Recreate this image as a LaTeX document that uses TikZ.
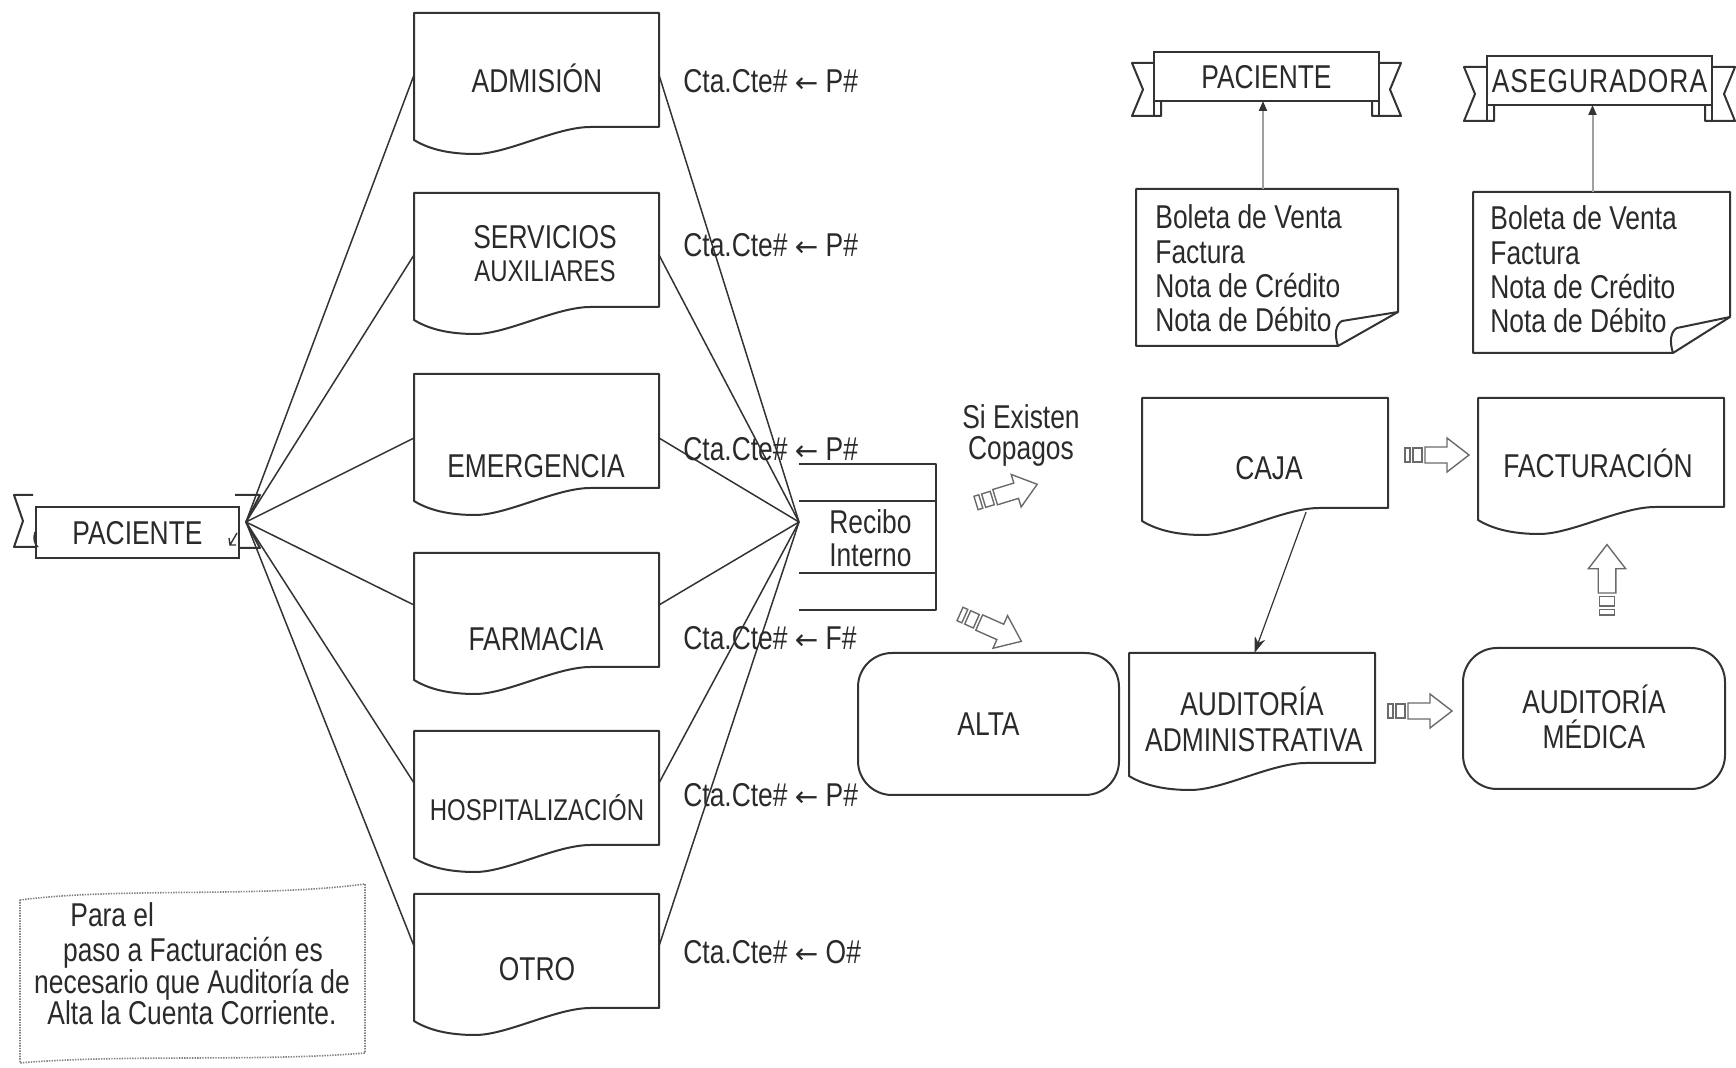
\documentclass[tikz,border=0pt]{standalone}
\usepackage{fontspec}
\setmainfont{Liberation Sans}[FakeStretch=0.8]
\newfontfamily\arrowfont{DejaVu Sans}
\usetikzlibrary{calc,arrows.meta}
\definecolor{ink}{HTML}{333333}
\definecolor{txt}{HTML}{2A2A2A}
\definecolor{hollow}{HTML}{6A6A6A}
\definecolor{link}{HTML}{A0A0A0}
\definecolor{dots}{HTML}{808080}

\tikzset{
  outline/.style={draw=ink, line width=1pt, line join=round},
  fan/.style={draw=ink, line width=0.75pt},
  lbl/.style={font=\fontsize{16.5}{19}\selectfont, text=txt, inner sep=0pt, text height=11.8pt, text depth=0pt},
  smalllbl/.style={lbl, font=\fontsize{15}{18}\selectfont},
  body/.style={rectangle, inner sep=0pt, outer sep=0pt, anchor=north west},
  pics/hollowarrow/.style={code={
    \draw[hollow, line width=0.7pt] (0,-7) rectangle (5,7) (8,-7) rectangle (17,7);
    \draw[hollow, line width=0.7pt, line join=miter] (20,-8) -- (42,-8) -- (42,-17) -- (64,0) -- (42,17) -- (42,8) -- (20,8) -- cycle;
  }},
}

% left-pointing arrow used in the account labels
\newcommand\larrow{{\arrowfont\fontsize{14}{16}\selectfont ←}}
% rectangle body of a shape, given in pixel units
\newcommand\docbody[5]{\node[body, minimum width=#4*0.5pt, minimum height=#5*0.5pt] (#1) at (#2,#3) {};}
% document outline with a wavy lower edge
\newcommand\wavedoc[1]{%
  \draw[outline] (#1.south east) -- (#1.north east) -- (#1.north west) -- ($(#1.south west)+(0,13)$)
   .. controls ($(#1.south west)!0.06!(#1.south east)+(0,22)$) and ($(#1.south west)!0.14!(#1.south east)+(0,27)$)
   .. ($(#1.south west)!0.25!(#1.south east)+(0,27)$)
   .. controls ($(#1.south west)!0.38!(#1.south east)+(0,27)$) and ($(#1.south west)!0.58!(#1.south east)$)
   .. ($(#1.south west)!0.72!(#1.south east)$) -- cycle;}
% sheet with a dog-eared lower right corner
\newcommand\folddoc[3]{%
  \draw[outline] (#1.north west) -- (#1.north east) -- ($(#1.south east)+(0,-#3)$) -- ($(#1.south east)+(-#2,0)$) -- (#1.south west) -- cycle;
  \draw[outline] ($(#1.south east)+(-#2,0)$) .. controls ($(#1.south east)+(-#2-4,-12)$) and ($(#1.south east)+(-#2-2,-22)$) .. ($(#1.south east)+(-#2+4,-25)$) -- ($(#1.south east)+(0,-#3)$);}

\begin{document}
\begin{tikzpicture}[x=0.5pt,y=-0.5pt]
\useasboundingbox (0,0) rectangle (1736,1068);

% ---- patient banner on the left
\draw[outline] (33,495) -- (14,495) -- (23,521) -- (14,547) -- (38,547);
\draw[outline] (235,495) -- (260,495) -- (246,522) -- (260,548) -- (239,548);
\node[body, lbl, draw=ink, line width=1pt, fill=white, minimum width=101.5pt, minimum height=25.5pt] (pac) at (36,507) {PACIENTE};
\draw[ink, line width=0.7pt] (35,532) .. controls (33,538) and (34,544) .. (38,547);
\draw[ink, line width=0.7pt] (237,533) -- (230,545) (229,538) -- (230,545) -- (236,545);
\coordinate (pacfan) at (246,522);

% ---- service documents
\docbody{adm}{414}{13}{245}{114}
\docbody{serv}{414}{193}{245}{114}
\docbody{emer}{414}{374}{245}{114}
\docbody{farm}{414}{553}{245}{114}
\docbody{hosp}{414}{731}{245}{114}
\docbody{otro}{414}{894}{245}{114}
\foreach \n in {adm,serv,emer,farm,hosp,otro} {\wavedoc{\n}}

\node[lbl] (t-adm) at (537,81) {ADMISIÓN};
\node[lbl] (t-serv1) at (545,237) {SERVICIOS};
\node[smalllbl] (t-serv2) at (545,270) {AUXILIARES};
\node[lbl] (t-emer) at (536,466) {EMERGENCIA};
\node[lbl] (t-farm) at (536,639) {FARMACIA};
\node[smalllbl] (t-hosp) at (537,809) {HOSPITALIZACIÓN};
\node[lbl] (t-otro) at (537,969) {OTRO};

% ---- internal receipt
\node[body, minimum width=68.5pt, minimum height=73.25pt] (rec) at (799,464) {};
\draw[outline] (rec.north west) -- (rec.north east) -- (rec.south east) -- (rec.south west);
\draw[outline] ($(rec.north west)+(0,37)$) -- ($(rec.north east)+(0,37)$);
\draw[outline] ($(rec.south west)+(0,-37)$) -- ($(rec.south east)+(0,-37)$);
\coordinate (recin) at ($(rec.north west)+(0,58)$);
\node[lbl, anchor=west] (t-rec1) at (829,522) {Recibo};
\node[lbl, anchor=west] (t-rec2) at (829,555) {Interno};

% ---- fan connectors
\foreach \n/\d in {adm/62,serv/62,emer/64,farm/52,hosp/52,otro/52} {
  \draw[fan] (pacfan) -- ($(\n.north west)+(0,\d)$);
  \draw[fan] ($(\n.north east)+(0,\d)$) -- (recin);
}

% ---- account labels
\foreach \y/\s [count=\i] in {81/P,245/P,449/P,638/F,795/P,952/O}
  \node[lbl, anchor=west] (cta\i) at (683,\y) {Cta.Cte\# \larrow{} \s\#};

\node[lbl] (t-si) at (1021,417) {Si Existen};
\node[lbl] (t-cop) at (1021,448) {Copagos};
\pic[rotate=17] at (976,503) {hollowarrow};
\pic[rotate=-24, scale=1.05] at (960,614) {hollowarrow};

% ---- discharge and audits
\node[body, lbl, draw=ink, line width=1pt, rounded corners=17pt, minimum width=130.5pt, minimum height=71pt] (alta) at (858,653) {ALTA};

\docbody{caja}{1142}{398}{246}{110}
\docbody{fact}{1478}{398}{246}{109}
\docbody{aa}{1129}{653}{246}{110}
\wavedoc{caja}
\wavedoc{fact}
\wavedoc{aa}
\node[body, draw=ink, line width=1pt, rounded corners=17pt, minimum width=131pt, minimum height=70.5pt] (am) at (1463,648) {};

\node[lbl] (t-caja) at (1269,468) {CAJA};
\node[lbl] (t-fact) at (1598,466) {FACTURACIÓN};
\node[lbl] (t-aa1) at (1252,704) {AUDITORÍA};
\node[lbl] (t-aa2) at (1254,740) {ADMINISTRATIVA};
\node[lbl] (t-am1) at (1594,702) {AUDITORÍA};
\node[lbl] (t-am2) at (1594,737) {MÉDICA};

\draw[ink, line width=0.6pt, -{Stealth[length=8pt, width=5.5pt]}]
  ($(caja.south west)!0.667!(caja.south east)+(0,4)$) -- ($(aa.north west)!0.51!(aa.north east)$);
\pic at (1405,455) {hollowarrow};
\pic at (1388,711) {hollowarrow};
\pic[rotate=90, scale=1.1] at (1607,615) {hollowarrow};

% ---- billing recipients
\draw[outline] (1154,63) -- (1132,63) -- (1143,89.5) -- (1132,116) -- (1161,116) -- (1161,101);
\draw[outline] (1154,101) -- (1154,116);
\draw[outline] (1379,63) -- (1401,63) -- (1390,89.5) -- (1401,116) -- (1372,116) -- (1372,101);
\draw[outline] (1379,101) -- (1379,116);
\node[body, lbl, draw=ink, line width=1pt, fill=white, minimum width=112.5pt, minimum height=24.5pt] (banpac) at (1154,52) {PACIENTE};

\draw[outline] (1487,67) -- (1464,67) -- (1475,94) -- (1464,121) -- (1494,121) -- (1494,105);
\draw[outline] (1487,105) -- (1487,121);
\draw[outline] (1712,67) -- (1735,67) -- (1724,94) -- (1735,121) -- (1705,121) -- (1705,105);
\draw[outline] (1712,105) -- (1712,121);
\node[body, lbl, draw=ink, line width=1pt, fill=white, minimum width=112.5pt, minimum height=24.5pt] (banaseg) at (1487,56) {\addfontfeatures{LetterSpace=3}ASEGURADORA};

\docbody{docpac}{1136}{189}{262}{157}
\folddoc{docpac}{60}{34}
\docbody{docaseg}{1473}{192}{257}{161}
\folddoc{docaseg}{57}{36}

\foreach \t [count=\i] in {Boleta de Venta,Factura,Nota de Crédito,Nota de Débito} {
  \pgfmathsetmacro\yy{{217,252,286,320}[\i-1]}
  \node[lbl, anchor=west] (dp\i) at (1155,\yy) {\t};
  \node[lbl, anchor=west] (da\i) at (1490,\yy+1) {\t};
}

\coordinate (lk1) at ([xshift=-2pt]docpac.north);
\coordinate (lk2) at ([xshift=-4.5pt]docaseg.north);
\draw[link, line width=1pt, -{Triangle[length=5pt, width=4pt, color=ink, fill=ink]}] (lk1) -- (lk1 |- banpac.south);
\draw[link, line width=1pt, -{Triangle[length=5pt, width=4pt, color=ink, fill=ink]}] (lk2) -- (lk2 |- banaseg.south);

% ---- note
\draw[dots, line width=0.8pt, dash pattern=on 0.7pt off 0.6pt]
  (20,900) .. controls (120,887) and (260,898) .. (365,884) -- (365,1053)
  .. controls (260,1062) and (120,1054) .. (20,1063) -- cycle;
\node[lbl, anchor=west] (n1) at (70,915) {Para el};
\node[lbl] (n2) at (193,950) {paso a Facturación es};
\node[lbl] (n3) at (192,982) {necesario que Auditoría de};
\node[lbl] (n4) at (192,1013) {Alta la Cuenta Corriente.};
\end{tikzpicture}
\end{document}
